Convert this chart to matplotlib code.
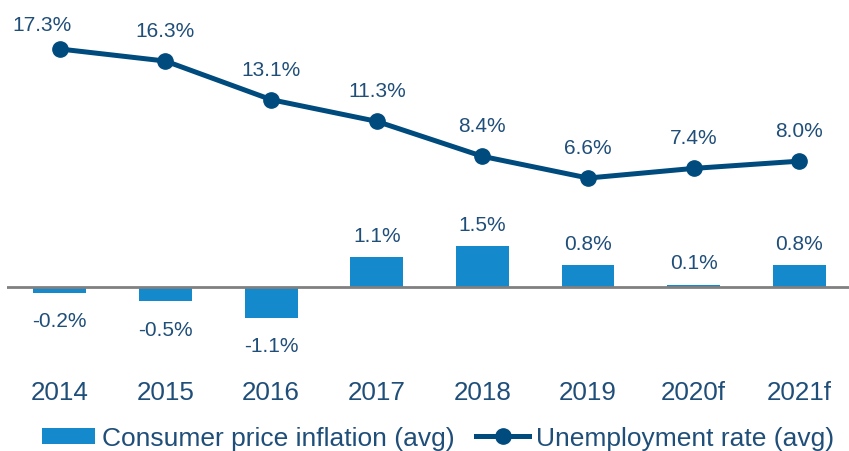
import numpy as np
from matplotlib import pyplot as plt

plt.rcParams['font.family'] = ['Liberation Sans', 'DejaVu Sans']

years = ['2014', '2015', '2016', '2017', '2018', '2019', '2020f', '2021f']
cpi = [-0.2, -0.5, -1.1, 1.1, 1.5, 0.8, 0.1, 0.8]
unemployment = [17.3, 16.3, 13.1, 11.3, 8.4, 6.6, 7.4, 8.0]

BAR_COLOR = '#1489cb'
LINE_COLOR = '#004b7d'
TEXT_COLOR = '#1f4e79'

fig = plt.figure(figsize=(8.49, 4.52), dpi=100)
ax = fig.add_axes([7 / 849, 92 / 452, 842 / 849, 360 / 452])
x = np.arange(len(years))

bars = ax.bar(x, cpi, 0.5, color=BAR_COLOR, zorder=2, label='Consumer price inflation (avg)')
ax.axhline(0, color='#808080', lw=2, zorder=3)
ax.set_ylim(-2.6, 10.49)
ax.set_xlim(-0.5, 7.47)

# bar labels: above for positive, below for negative
for xi, v in zip(x, cpi):
    if v >= 0:
        ax.annotate(f'{v:.1f}%', (xi, v), xytext=(0, 16), textcoords='offset points',
                    ha='center', va='center', fontsize=15, color=TEXT_COLOR)
    else:
        ax.annotate(f'{v:.1f}%', (xi, v), xytext=(0, -20), textcoords='offset points',
                    ha='center', va='center', fontsize=15, color=TEXT_COLOR)

# unemployment on its own axis
ax2 = ax.twinx()
line = ax2.plot(x, unemployment, color=LINE_COLOR, lw=3.6, marker='o', markersize=11,
                zorder=4, label='Unemployment rate (avg)')
ax2.set_ylim(-8.405, 21.446)
for i, (xi, v) in enumerate(zip(x, unemployment)):
    off = (-13, 18) if i == 0 else (0, 22)
    ax2.annotate(f'{v:.1f}%', (xi, v), xytext=off, textcoords='offset points',
                 ha='center', va='center', fontsize=15, color=TEXT_COLOR)

for a in [ax, ax2]:
    for s in a.spines.values():
        s.set_visible(False)
    a.set_yticks([])

ax.set_xticks(x)
ax.set_xticklabels(years, fontsize=18.7, color=TEXT_COLOR)
ax.tick_params(axis='x', length=0, pad=15)

fig.legend([bars, line[0]], ['Consumer price inflation (avg)', 'Unemployment rate (avg)'],
           loc='center', bbox_to_anchor=(438 / 849, 1 - 439 / 452), ncol=2, frameon=False,
           fontsize=19, labelcolor=TEXT_COLOR, handlelength=2.0, handleheight=0.55,
           handletextpad=0.27, columnspacing=0.83, borderpad=0, borderaxespad=0)

plt.savefig('out.png', dpi=100)
